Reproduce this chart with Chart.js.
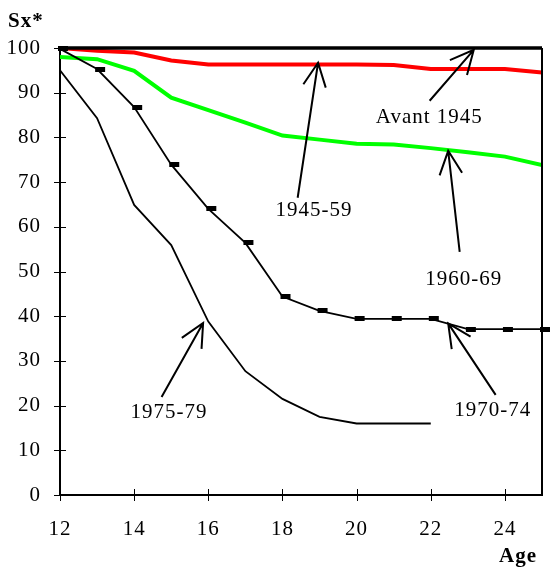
<!DOCTYPE html>
<html>
<head>
<meta charset="utf-8">
<script src="https://cdn.jsdelivr.net/npm/chart.js@4"></script>
<style>
  html, body { margin: 0; padding: 0; background: #fff; }
  #wrap { width: 550px; height: 569px; }
</style>
</head>
<body>
<div id="wrap"><canvas id="survieChart"></canvas></div>
<script>
// Ages (x) and survival values Sx* for each generation
var ages = [12, 13, 14, 15, 16, 17, 18, 19, 20, 21, 22, 23, 24, 25];
var avant1945 = [100, 100, 100, 100, 100, 100, 100, 100, 100, 100, 100, 100, 100, 100];
var gen1945_59 = [100, 99.4, 99, 97.2, 96.3, 96.3, 96.3, 96.3, 96.3, 96.2, 95.3, 95.3, 95.3, 94.5];
var gen1960_69 = [98, 97.5, 94.9, 88.9, 86.1, 83.3, 80.4, 79.5, 78.6, 78.4, 77.6, 76.7, 75.7, 73.8];
var gen1970_74 = [99.8, 95.3, 86.8, 73.9, 64, 56.4, 44.4, 41.2, 39.4, 39.4, 39.4, 37.1, 37.1, 37.1];
var gen1975_79 = [95, 84.3, 64.9, 55.9, 38.8, 27.7, 21.5, 17.5, 16, 16, 16];

var xTicks = [12, 14, 16, 18, 20, 22, 24];
var yTicks = [0, 10, 20, 30, 40, 50, 60, 70, 80, 90, 100];

var serif = '"Liberation Serif", "Times New Roman", serif';

function toPoints(values) {
    return values.map(function (v, i) { return { x: ages[i], y: v }; });
}

// small dash marker, drawn right of the point like the original
var marker = document.createElement('canvas');
marker.width = 20;
marker.height = 5;
var mctx = marker.getContext('2d');
mctx.fillStyle = '#000';
mctx.fillRect(8, 0, 10, 5);

// arrow annotations, in data coordinates
var notes = [
    { text: 'Avant 1945', tip: [23.16, 99.6], tail: [21.97, 88.2], at: [21.96, 84.4] },
    { text: '1945-59', tip: [18.96, 96.7], tail: [18.41, 66.5], at: [18.85, 63.6] },
    { text: '1960-69', tip: [22.47, 77.0], tail: [22.78, 54.4], at: [22.89, 48.3] },
    { text: '1970-74', tip: [22.47, 38.4], tail: [23.75, 22.4], at: [23.67, 19.0] },
    { text: '1975-79', tip: [15.86, 38.5], tail: [14.74, 21.9], at: [14.94, 18.4] }
];

var decorPlugin = {
    id: 'decor',
    beforeDraw: function (chart) {
        // slightly spaced lettering, as in the original
        chart.ctx.letterSpacing = '1px';
    },
    afterDatasetsDraw: function (chart) {
        var ctx = chart.ctx;
        var xs = chart.scales.x, ys = chart.scales.y;
        var area = chart.chartArea;
        ctx.save();
        ctx.strokeStyle = '#000';
        ctx.lineWidth = 2;
        // right frame
        ctx.beginPath();
        ctx.moveTo(area.right, area.top);
        ctx.lineTo(area.right, area.bottom + 1);
        ctx.stroke();
        // crossing tick marks
        ctx.lineWidth = 1;
        xTicks.forEach(function (v) {
            var px = Math.round(xs.getPixelForValue(v)) + 0.5;
            ctx.beginPath();
            ctx.moveTo(px, area.bottom - 6);
            ctx.lineTo(px, area.bottom + 6);
            ctx.stroke();
        });
        yTicks.forEach(function (v) {
            var py = Math.round(ys.getPixelForValue(v)) + 0.5;
            ctx.beginPath();
            ctx.moveTo(area.left - 6, py);
            ctx.lineTo(area.left + 6, py);
            ctx.stroke();
        });
        // arrows and their labels
        ctx.lineWidth = 2;
        ctx.font = '21px ' + serif;
        ctx.fillStyle = '#000';
        ctx.textAlign = 'center';
        ctx.textBaseline = 'middle';
        notes.forEach(function (n) {
            var tx = xs.getPixelForValue(n.tip[0]), ty = ys.getPixelForValue(n.tip[1]);
            var bx = xs.getPixelForValue(n.tail[0]), by = ys.getPixelForValue(n.tail[1]);
            var ang = Math.atan2(by - ty, bx - tx);
            var len = 26, spread = 0.45;
            ctx.beginPath();
            ctx.moveTo(bx, by);
            ctx.lineTo(tx, ty);
            ctx.moveTo(tx + len * Math.cos(ang - spread), ty + len * Math.sin(ang - spread));
            ctx.lineTo(tx, ty);
            ctx.lineTo(tx + len * Math.cos(ang + spread), ty + len * Math.sin(ang + spread));
            ctx.stroke();
            ctx.fillText(n.text, xs.getPixelForValue(n.at[0]), ys.getPixelForValue(n.at[1]));
        });
        // axis titles
        ctx.font = 'bold 21px ' + serif;
        ctx.textAlign = 'left';
        ctx.fillText('Sx*', 8, 22);
        ctx.textAlign = 'right';
        ctx.fillText('Age', 537, 557);
        ctx.restore();
    }
};

new Chart(document.getElementById('survieChart').getContext('2d'), {
    type: 'line',
    data: {
        datasets: [
            {
                label: '1975-79',
                data: toPoints(gen1975_79),
                borderColor: '#000',
                borderWidth: 1.8,
                pointRadius: 0
            },
            {
                label: '1970-74',
                data: toPoints(gen1970_74),
                borderColor: '#000',
                borderWidth: 1.8,
                pointStyle: marker,
                pointRadius: 5,
                clip: false
            },
            {
                label: '1960-69',
                data: toPoints(gen1960_69),
                borderColor: '#00ff00',
                borderWidth: 4
            },
            {
                label: 'Avant 1945',
                data: toPoints(avant1945),
                borderColor: '#000',
                borderWidth: 3.5,
                clip: false
            },
            {
                label: '1945-59',
                data: toPoints(gen1945_59),
                borderColor: '#ff0000',
                borderWidth: 4
            }
        ]
    },
    options: {
        responsive: true,
        maintainAspectRatio: false,
        animation: false,
        layout: { padding: { top: 48, right: 8, left: 0, bottom: 0 } },
        elements: {
            line: { tension: 0, borderCapStyle: 'butt' },
            point: { radius: 0 }
        },
        plugins: {
            legend: { display: false },
            tooltip: { enabled: false }
        },
        scales: {
            x: {
                type: 'linear',
                min: 12,
                max: 25,
                afterBuildTicks: function (scale) {
                    scale.ticks = xTicks.map(function (v) { return { value: v }; });
                },
                afterFit: function (scale) { scale.height = 74; },
                grid: { display: false },
                border: { display: true, color: '#000', width: 2 },
                ticks: {
                    color: '#000',
                    padding: 14,
                    maxRotation: 0,
                    font: { family: serif, size: 21 }
                }
            },
            y: {
                min: 0,
                max: 100,
                afterBuildTicks: function (scale) {
                    scale.ticks = yTicks.map(function (v) { return { value: v }; });
                },
                afterFit: function (scale) { scale.width = 60; },
                grid: { display: false },
                border: { display: true, color: '#000', width: 2 },
                ticks: {
                    color: '#000',
                    padding: 11,
                    font: { family: serif, size: 21 }
                }
            }
        }
    },
    plugins: [decorPlugin]
});
</script>
</body>
</html>
